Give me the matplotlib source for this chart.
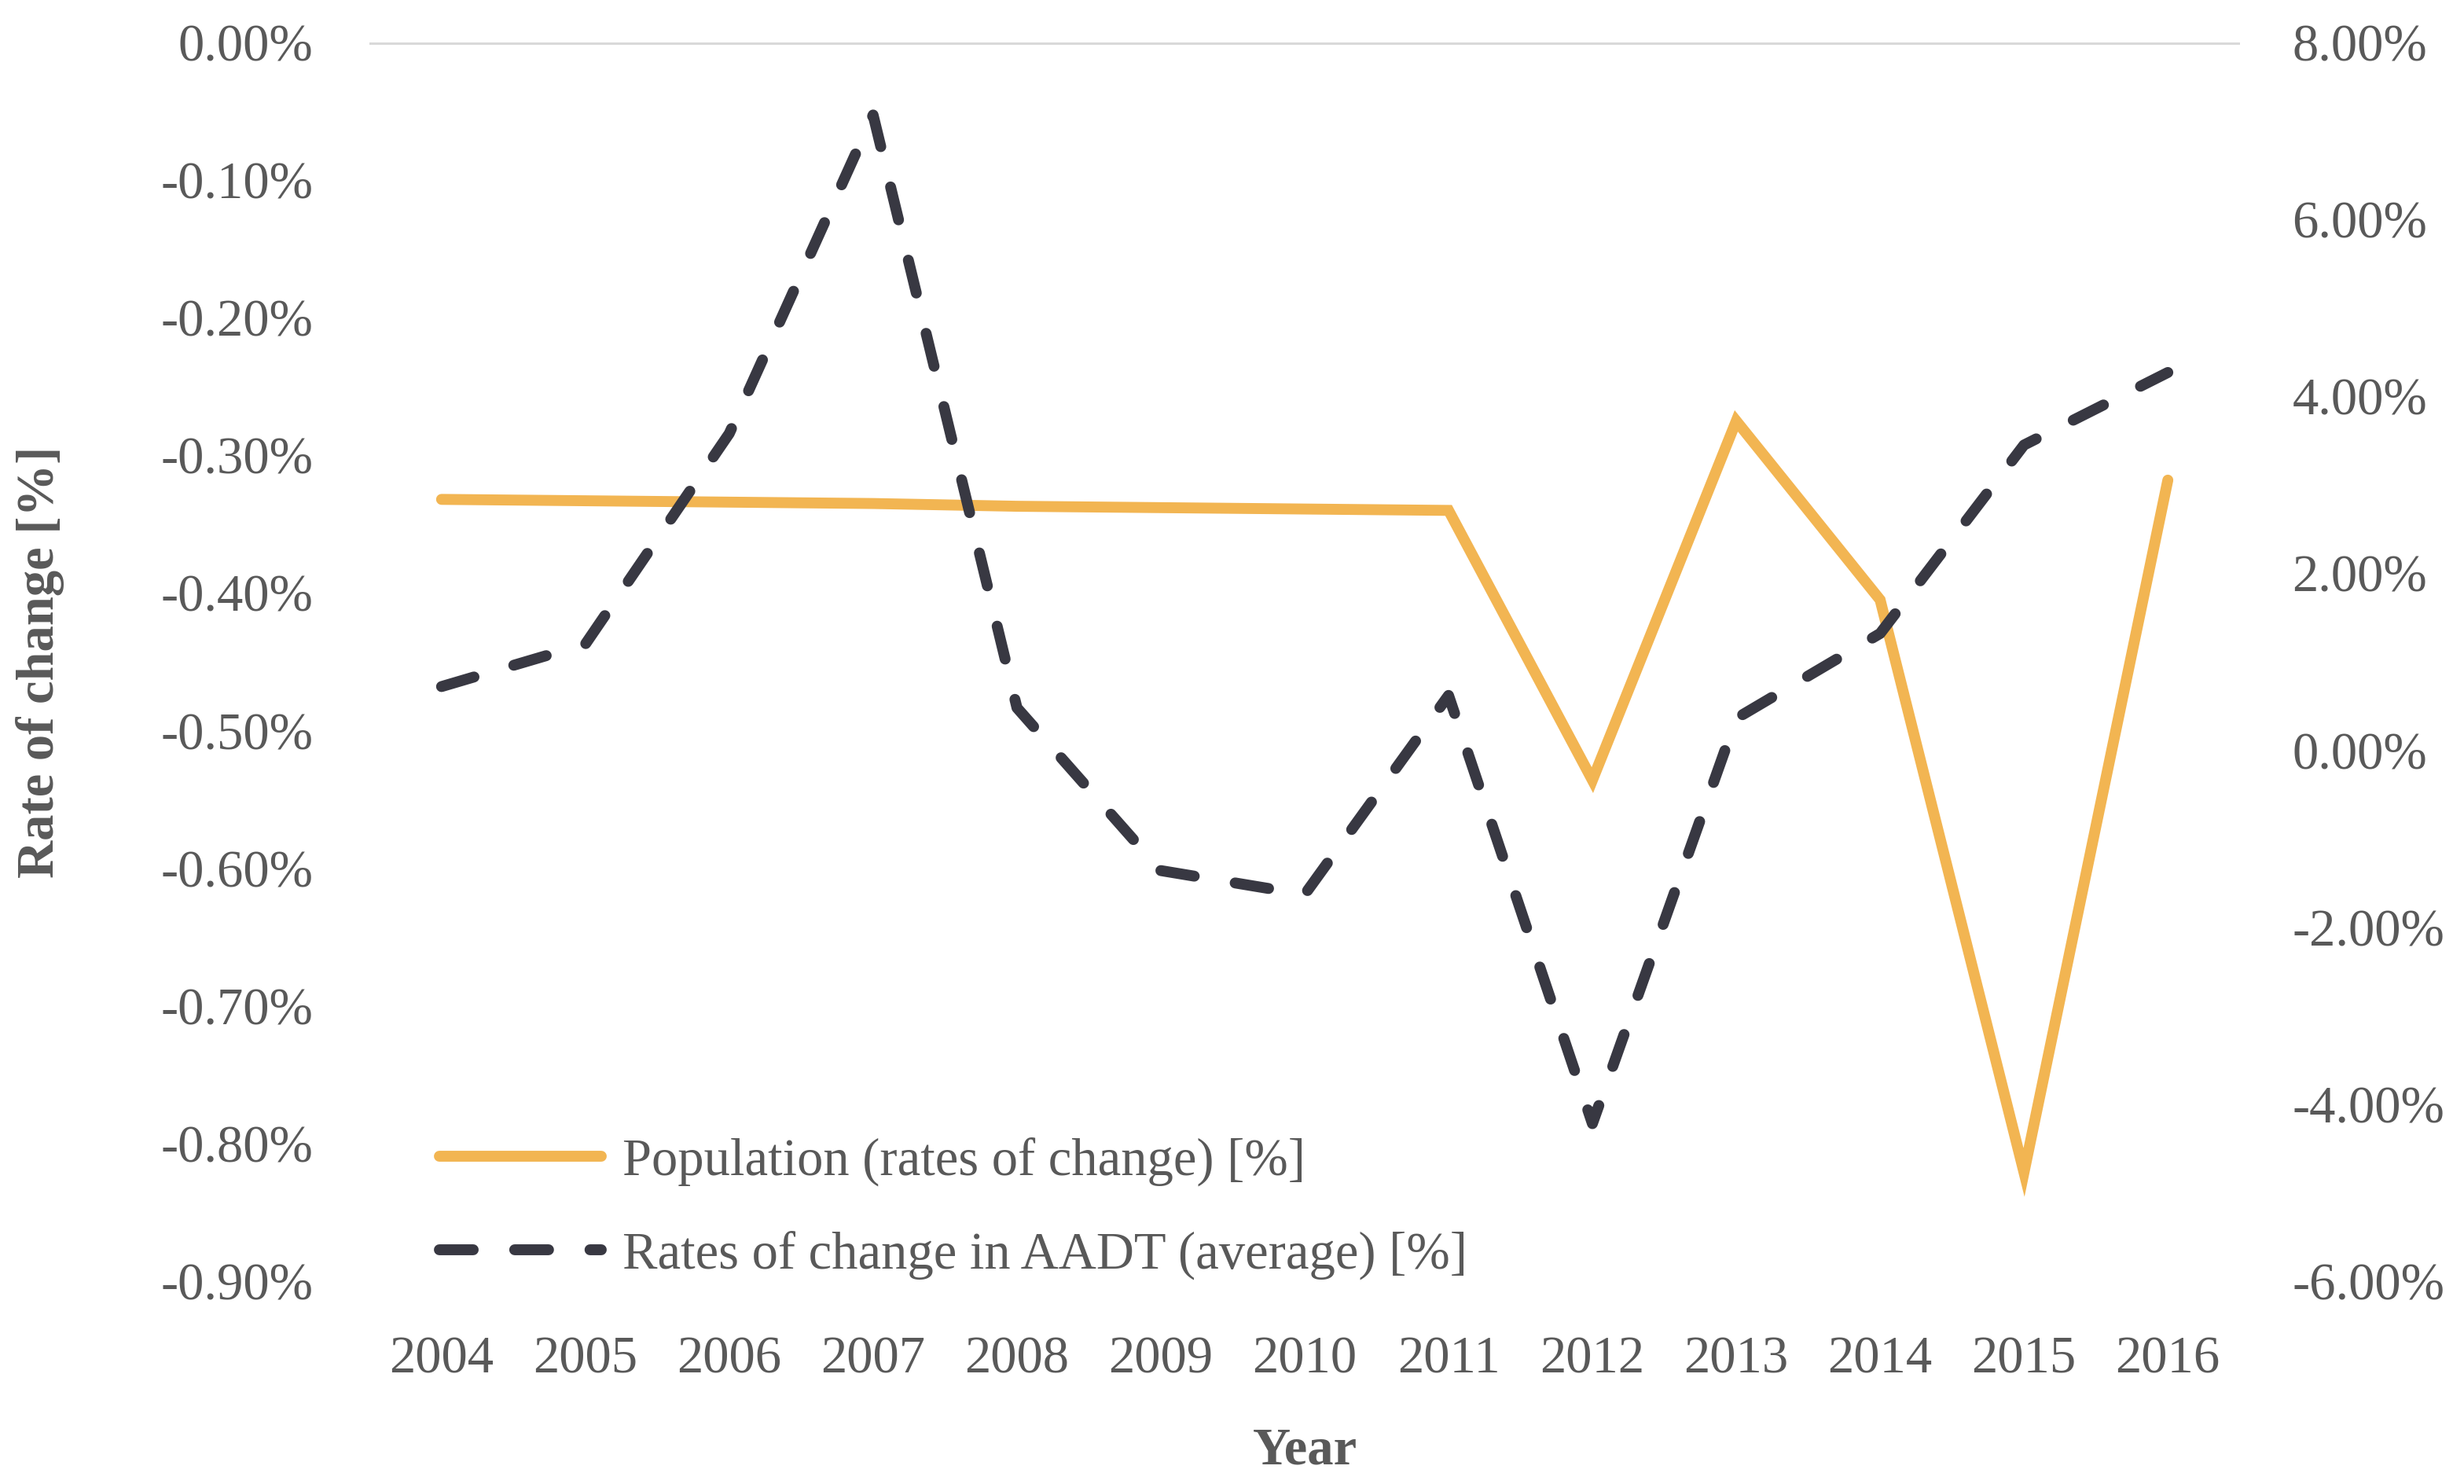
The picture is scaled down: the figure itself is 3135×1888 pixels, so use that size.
import matplotlib
matplotlib.use('Agg')
import matplotlib.pyplot as plt
from matplotlib.ticker import FuncFormatter, MultipleLocator
import numpy as np

years = ['2004', '2005', '2006', '2007', '2008', '2009', '2010',
         '2011', '2012', '2013', '2014', '2015', '2016']

# left axis, population rates of change [%]
population = [-0.332, -0.333, -0.334, -0.335, -0.337, -0.338, -0.339,
              -0.340, -0.536, -0.275, -0.405, -0.821, -0.318]

# right axis, AADT rates of change (average) [%]
aadt = [0.72, 1.20, 3.58, 7.18, 0.48, -1.36, -1.63,
        0.62, -4.22, 0.36, 1.32, 3.45, 4.27]

pop_label = 'Population (rates of change) [%]'
aadt_label = 'Rates of change in AADT (average) [%]'

text_col = '#595959'
plt.rcParams['font.family'] = ['Liberation Serif', 'DejaVu Serif']


def pct(v, pos):
    return '{:.2f}%'.format(v).replace('\u2212', '-')


fig = plt.figure(figsize=(15.675, 9.44), dpi=200)
ax = fig.add_axes([0.15, 0.1367, 0.759, 0.8347])
ax2 = ax.twinx()

x = np.arange(len(years))
line1, = ax.plot(x, population, color='#F2B552', lw=5,
                 solid_capstyle='round', solid_joinstyle='miter',
                 label=pop_label)
line2, = ax2.plot(x, aadt, color='#383842', lw=5, dashes=(3.1, 3.8),
                  dash_capstyle='round', label=aadt_label)

ax.axhline(0, color='#D9D9D9', lw=2.2, zorder=0)

ax.set_xlim(-0.5, len(years) - 0.5)
ax.set_ylim(-0.9, 0.0)
ax2.set_ylim(-6, 8)
ax.yaxis.set_major_locator(MultipleLocator(0.1))
ax2.yaxis.set_major_locator(MultipleLocator(2))
ax.yaxis.set_major_formatter(FuncFormatter(pct))
ax2.yaxis.set_major_formatter(FuncFormatter(pct))

ax.set_xticks(x)
ax.set_xticklabels(years)

for a in (ax, ax2):
    for s in a.spines.values():
        s.set_visible(False)
    a.tick_params(length=0, labelsize=24, labelcolor=text_col)
ax.tick_params(axis='x', pad=25)
ax.tick_params(axis='y', pad=26)
ax2.tick_params(axis='y', pad=24)

ax.set_xlabel('Year', fontsize=24, fontweight='bold', color=text_col,
              labelpad=20)
ax.set_ylabel('Rate of change [%]', fontsize=24, fontweight='bold',
              color=text_col, labelpad=44)

leg = ax2.legend([line1, line2], [pop_label, aadt_label],
                 loc='lower left', bbox_to_anchor=(0.012, -0.037),
                 frameon=False, fontsize=24, handlelength=3.1,
                 handletextpad=0.4, labelspacing=0.85)
for t in leg.get_texts():
    t.set_color(text_col)

fig.savefig('out.png', dpi=200)
